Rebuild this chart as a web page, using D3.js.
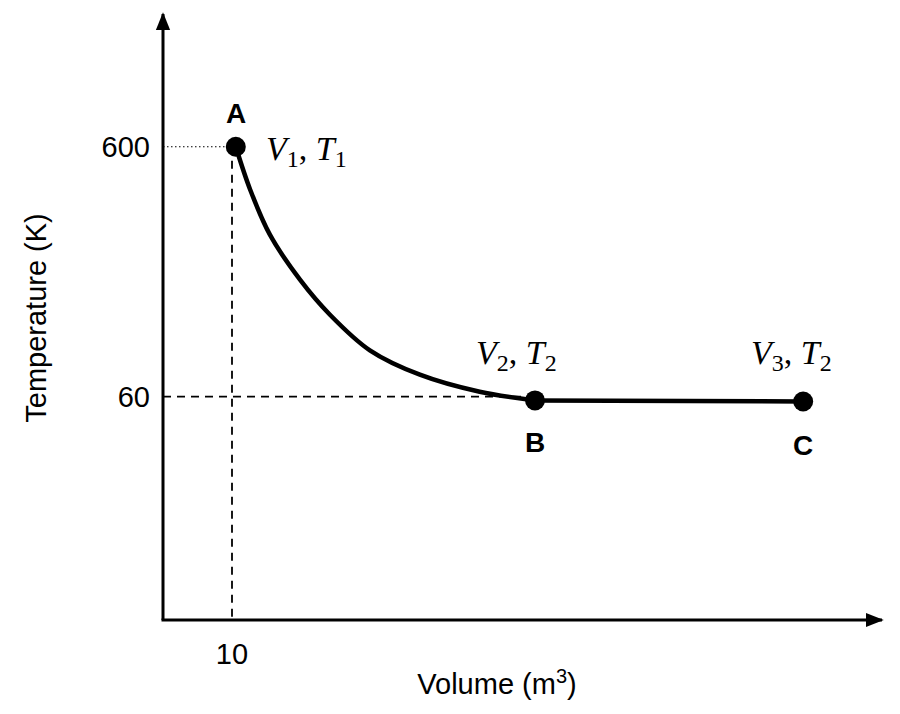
<!DOCTYPE html><html><head><script src="https://cdn.jsdelivr.net/npm/d3@7"></script>
<style>body{margin:0;background:#fff}</style></head><body><svg id="c" width="900" height="714"></svg>
<script>
const curveV=[10.5,12.4,15.0,19.0,22.9,28.2,34.8,42.7,50.0];
const curveT=[600,404,267,176,128,92,73.5,62.8,58];
const lineV=[50.0,85.4];
const lineT=[58,57.4];
const points=[{n:"A",v:10.5,t:600},{n:"B",v:50.0,t:58},{n:"C",v:85.4,t:57.4}];
const yTicks=[600,60];
const xTicks=[10];
const svg=d3.select("#c");
const x=d3.scaleLinear().domain([0,10]).range([156.25,232]);
const y=d3.scaleLog().domain([7.67,2020]).range([620,15]);
const x0=163,y0=620;
svg.append("defs").append("marker").attr("id","ar").attr("viewBox","0 0 10 10").attr("refX",9).attr("refY",5)
 .attr("markerWidth",6).attr("markerHeight",6).attr("orient","auto").append("path").attr("d","M0,1L10,5L0,9z").attr("fill","#000");
svg.append("line").attr("x1",x0).attr("y1",y0).attr("x2",x0).attr("y2",14).attr("stroke","#000").attr("stroke-width",3).attr("marker-end","url(#ar)");
svg.append("line").attr("x1",x0-1.5).attr("y1",y0).attr("x2",882).attr("y2",y0).attr("stroke","#000").attr("stroke-width",3).attr("marker-end","url(#ar)");
svg.append("line").attr("x1",x0).attr("x2",x(10.5)).attr("y1",y(600)).attr("y2",y(600)).attr("stroke","#000").attr("stroke-width",1.2).attr("stroke-dasharray","1.5,2.5");
svg.append("line").attr("x1",x0).attr("x2",x(50)).attr("y1",y(60)).attr("y2",y(60)).attr("stroke","#000").attr("stroke-width",1.8).attr("stroke-dasharray","8,6");
svg.append("line").attr("x1",x(10)).attr("x2",x(10)).attr("y1",y(600)).attr("y2",y0).attr("stroke","#000").attr("stroke-width",1.8).attr("stroke-dasharray","8,6");
const line=d3.line().x(d=>x(d[0])).y(d=>y(d[1])).curve(d3.curveCatmullRom);
svg.append("path").attr("d",line(curveV.map((v,i)=>[v,curveT[i]]))).attr("fill","none").attr("stroke","#000").attr("stroke-width",4.5);
svg.append("path").attr("d",d3.line().x(d=>x(d[0])).y(d=>y(d[1]))(lineV.map((v,i)=>[v,lineT[i]]))).attr("fill","none").attr("stroke","#000").attr("stroke-width",4.5);
svg.selectAll("circle").data(points).join("circle").attr("cx",d=>x(d.v)).attr("cy",d=>y(d.t)).attr("r",10).attr("fill","#000");
const f="Liberation Sans, Arial, sans-serif";
svg.selectAll(".yt").data(yTicks).join("text").attr("x",150).attr("y",d=>y(d)+10).attr("text-anchor","end").attr("font-family",f).attr("font-size",29).text(d=>d);
svg.selectAll(".xt").data(xTicks).join("text").attr("x",d=>x(d)).attr("y",664).attr("text-anchor","middle").attr("font-family",f).attr("font-size",29).text(d=>d);
const lab=[{t:"A",x:236,y:123},{t:"B",x:535,y:452},{t:"C",x:803,y:455}];
svg.selectAll(".l").data(lab).join("text").attr("x",d=>d.x).attr("y",d=>d.y).attr("text-anchor","middle").attr("font-family",f).attr("font-weight","bold").attr("font-size",28).text(d=>d.t);
function math(px,py,a,b){
 const t=svg.append("text").attr("x",px).attr("y",py).attr("font-family","Liberation Serif, serif").attr("font-size",34);
 t.append("tspan").attr("font-style","italic").text("V");
 t.append("tspan").attr("font-size",24).attr("dy",7).text(a);
 t.append("tspan").attr("dy",-7).text(", ");
 t.append("tspan").attr("font-style","italic").text("T");
 t.append("tspan").attr("font-size",24).attr("dy",7).text(b);
}
math(266,160,"1","1");
math(476,364,"2","2");
math(751,364,"3","2");
svg.append("text").attr("transform","translate(46,318) rotate(-90)").attr("text-anchor","middle").attr("font-family",f).attr("font-size",29).text("Temperature (K)");
const xl=svg.append("text").attr("x",497).attr("y",694).attr("text-anchor","middle").attr("font-family",f).attr("font-size",29);
xl.append("tspan").text("Volume (m");
xl.append("tspan").attr("font-size",20).attr("dy",-11).text("3");
xl.append("tspan").attr("dy",11).text(")");
</script></body></html>
